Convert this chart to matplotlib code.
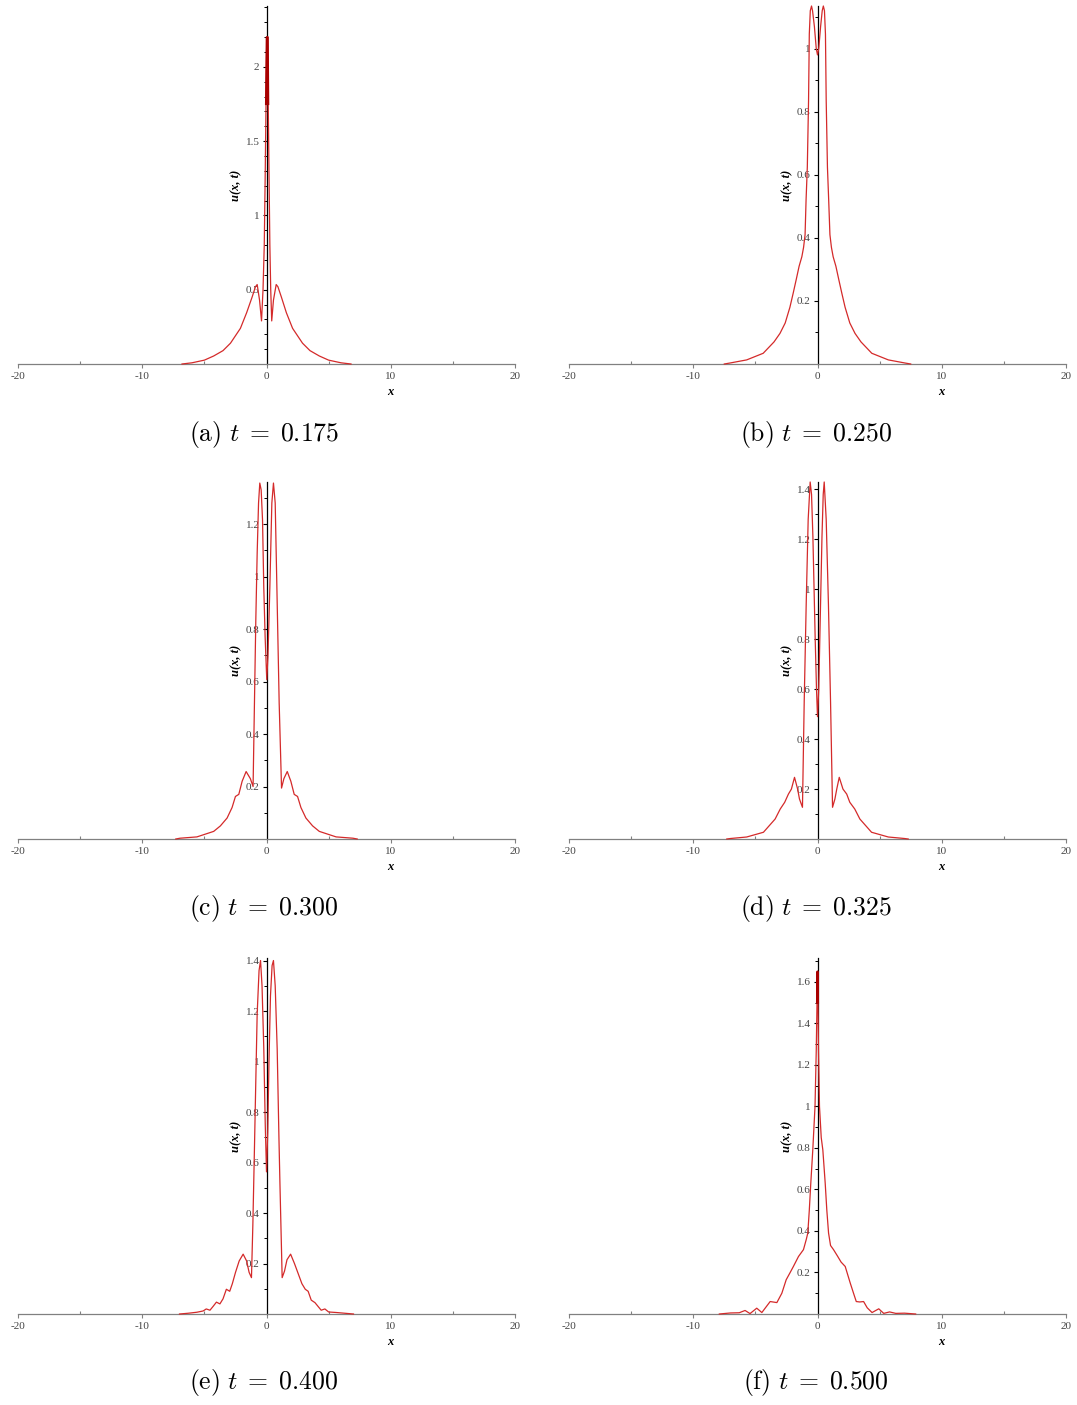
import numpy as np
import matplotlib
matplotlib.use('Agg')
import matplotlib.pyplot as plt
from matplotlib.ticker import FixedLocator, FixedFormatter

plt.rcParams['mathtext.fontset'] = 'cm'
plt.rcParams['axes.unicode_minus'] = False

# u(x,t) profiles
x_a = [-6.8, -6.0, -5.0, -4.25, -3.5, -2.9, -2.1, -1.6, -1.16, -0.89, -0.75, -0.56, -0.4, -0.28, -0.18, -0.1, -0.04,
       0.02, 0.1, 0.14, 0.2, 0.27, 0.34, 0.42, 0.56, 0.78, 0.92, 1.2, 1.6, 2.1, 2.9, 3.5, 4.25, 5.0, 6.0, 6.8]
u_a = [0.0, 0.008, 0.026, 0.054, 0.09, 0.14, 0.24, 0.345, 0.45, 0.52, 0.535, 0.43, 0.29, 0.5, 0.8, 1.3, 1.75,
       2.2, 2.2, 1.75, 1.3, 0.8, 0.5, 0.29, 0.43, 0.535, 0.52, 0.45, 0.345, 0.24, 0.14, 0.09, 0.054, 0.026, 0.008, 0.0]

x_b = [-7.5, -7.06, -5.7, -4.37, -3.5, -3.02, -2.6, -2.22, -1.96, -1.7, -1.48, -1.26, -1.12, -1.0, -0.92, -0.82,
       -0.72, -0.66, -0.58, -0.48, -0.4, -0.25, -0.1, 0.0, 0.1, 0.25, 0.38, 0.47, 0.56, 0.64, 0.7, 0.8, 0.9, 1.0,
       1.12, 1.26, 1.48, 1.7, 1.96, 2.22, 2.6, 3.02, 3.5, 4.37, 5.7, 7.06, 7.5]
u_b = [0.0, 0.003, 0.013, 0.034, 0.07, 0.097, 0.13, 0.18, 0.224, 0.27, 0.31, 0.34, 0.37, 0.41, 0.52, 0.624,
       0.835, 1.046, 1.12, 1.135, 1.12, 1.07, 1.0, 0.98, 1.0, 1.07, 1.12, 1.135, 1.12, 1.046, 0.835, 0.624, 0.52, 0.41,
       0.37, 0.34, 0.31, 0.27, 0.224, 0.18, 0.13, 0.097, 0.07, 0.034, 0.013, 0.003, 0.0]

x_c = [-7.3, -6.96, -5.6, -4.25, -3.71, -3.17, -2.77, -2.5, -2.23, -1.96, -1.64, -1.3, -1.08, -0.97, -0.86,
       -0.75, -0.64, -0.54, -0.43, -0.32, -0.22, -0.11, 0.02, 0.12, 0.27, 0.43, 0.56, 0.7, 0.86, 1.02, 1.21,
       1.4, 1.67, 1.96, 2.23, 2.5, 2.77, 3.17, 3.71, 4.25, 5.6, 6.96, 7.3]
u_c = [0.0, 0.003, 0.008, 0.029, 0.05, 0.08, 0.12, 0.162, 0.17, 0.22, 0.257, 0.23, 0.2, 0.518, 0.835,
       1.09, 1.28, 1.356, 1.33, 1.216, 0.96, 0.77, 0.607, 0.7, 0.96, 1.28, 1.356, 1.28, 0.9, 0.518, 0.194,
       0.23, 0.257, 0.22, 0.17, 0.162, 0.12, 0.08, 0.05, 0.029, 0.008, 0.003, 0.0]

x_d = [-7.3, -7.0, -5.7, -4.35, -3.41, -3.0, -2.64, -2.34, -2.1, -1.85, -1.6, -1.45, -1.21, -1.07, -0.91,
       -0.75, -0.59, -0.48, -0.37, -0.19, -0.08, 0.0, 0.1, 0.19, 0.36, 0.46, 0.54, 0.7, 0.88, 1.05, 1.21,
       1.4, 1.55, 1.75, 2.05, 2.35, 2.6, 3.0, 3.41, 4.35, 5.7, 7.0, 7.3]
u_d = [0.0, 0.002, 0.008, 0.027, 0.08, 0.12, 0.147, 0.18, 0.2, 0.247, 0.2, 0.16, 0.127, 0.55, 0.94,
       1.28, 1.43, 1.38, 1.21, 0.81, 0.6, 0.49, 0.6, 0.81, 1.21, 1.38, 1.43, 1.28, 0.94, 0.55, 0.127,
       0.16, 0.2, 0.247, 0.2, 0.18, 0.147, 0.12, 0.08, 0.027, 0.008, 0.002, 0.0]

x_e = [-7.0, -6.3, -5.6, -5.1, -4.85, -4.55, -4.3, -4.03, -3.75, -3.5, -3.23, -2.96, -2.75, -2.5, -2.2,
       -1.88, -1.6, -1.4, -1.21, -1.1, -0.97, -0.85, -0.75, -0.6, -0.48, -0.36, -0.22, -0.1, 0.0, 0.1,
       0.2, 0.32, 0.45, 0.56, 0.7, 0.86, 1.0, 1.08, 1.26, 1.45, 1.65, 1.94, 2.25, 2.55, 2.85, 3.12, 3.35,
       3.6, 3.9, 4.15, 4.4, 4.7, 5.0, 5.6, 6.3, 7.0]
u_e = [0.0, 0.003, 0.007, 0.012, 0.02, 0.015, 0.03, 0.047, 0.04, 0.06, 0.098, 0.09, 0.12, 0.164, 0.21,
       0.237, 0.21, 0.165, 0.144, 0.35, 0.656, 0.95, 1.19, 1.36, 1.4, 1.3, 1.055, 0.75, 0.563, 0.72,
       1.0, 1.26, 1.38, 1.4, 1.3, 1.05, 0.7, 0.52, 0.144, 0.17, 0.215, 0.237, 0.2, 0.16, 0.12, 0.098, 0.09,
       0.055, 0.045, 0.03, 0.015, 0.02, 0.008, 0.006, 0.003, 0.0]

x_f = [-7.9, -7.0, -6.3, -5.83, -5.43, -4.89, -4.48, -3.81, -3.27, -2.87, -2.52, -2.2, -1.94, -1.53, -1.13,
       -0.9, -0.78, -0.66, -0.54, -0.38, -0.2, -0.1, -0.04, 0.0, 0.04, 0.08, 0.16, 0.3, 0.43, 0.62,
       0.75, 0.89, 1.05, 1.29, 1.6, 1.9, 2.23, 2.63, 2.9, 3.12, 3.4, 3.71, 4.0, 4.39, 4.93, 5.33, 5.8,
       6.3, 7.0, 7.9]
u_f = [0.0, 0.005, 0.006, 0.017, 0.002, 0.028, 0.007, 0.06, 0.055, 0.1, 0.165, 0.2, 0.229, 0.277, 0.31,
       0.36, 0.39, 0.5, 0.63, 0.79, 1.0, 1.27, 1.5, 1.65, 1.5, 1.27, 1.0, 0.85, 0.79, 0.63,
       0.5, 0.39, 0.33, 0.31, 0.28, 0.25, 0.229, 0.15, 0.1, 0.06, 0.058, 0.06, 0.03, 0.007, 0.025, 0.003, 0.01,
       0.003, 0.004, 0.0]

tags = ['a', 'b', 'c', 'd', 'e', 'f']
t_vals = ['0.175', '0.250', '0.300', '0.325', '0.400', '0.500']
xs = [x_a, x_b, x_c, x_d, x_e, x_f]
us = [u_a, u_b, u_c, u_d, u_e, u_f]

x_ticks = [-20, -10, 0, 10, 20]
x_ticklabels = ['-20', '-10', '0', '10', '20']
x_minor = [-15, -5, 5, 15]

y_ticks = [[0.5, 1, 1.5, 2],
           [0.2, 0.4, 0.6, 0.8, 1],
           [0.2, 0.4, 0.6, 0.8, 1, 1.2],
           [0.2, 0.4, 0.6, 0.8, 1, 1.2, 1.4],
           [0.2, 0.4, 0.6, 0.8, 1, 1.2, 1.4],
           [0.2, 0.4, 0.6, 0.8, 1, 1.2, 1.4, 1.6]]
y_ticklabels = [['0.5', '1', '1.5', '2'],
                ['0.2', '0.4', '0.6', '0.8', '1'],
                ['0.2', '0.4', '0.6', '0.8', '1', '1.2'],
                ['0.2', '0.4', '0.6', '0.8', '1', '1.2', '1.4'],
                ['0.2', '0.4', '0.6', '0.8', '1', '1.2', '1.4'],
                ['0.2', '0.4', '0.6', '0.8', '1', '1.2', '1.4', '1.6']]
y_top = [2.41, 1.135, 1.36, 1.43, 1.41, 1.715]
dark_above = [1.7, None, None, None, None, 1.45]

W, H = 1077, 1405
fig = plt.figure(figsize=(W / 100, H / 100), dpi=100)

col_left = [18, 569]
ax_w = 497
rows = [(6, 364), (482, 839), (958, 1314)]
cap_y = [434, 908, 1383]
cap_x = [264, 816]

serif = 'Liberation Serif'
red = '#d42a2a'

for k in range(6):
    r, c = k // 2, k % 2
    top, bot = rows[r]
    ax = fig.add_axes([col_left[c] / W, 1 - bot / H, ax_w / W, (bot - top) / H])
    ax.set_xlim(-20, 20)
    ax.set_ylim(0, y_top[k])

    for s in ['top', 'right']:
        ax.spines[s].set_visible(False)
    ax.spines['left'].set_position(('data', 0))
    ax.spines['bottom'].set_position(('data', 0))
    ax.spines['left'].set_color('black')
    ax.spines['left'].set_linewidth(0.9)
    ax.spines['bottom'].set_color('#808080')
    ax.spines['bottom'].set_linewidth(0.9)

    xd = np.array(xs[k])
    ud = np.array(us[k])
    ax.plot(xd, ud, color=red, lw=0.9, zorder=3, clip_on=False)
    if dark_above[k] is not None:
        m = ud >= dark_above[k]
        ax.plot(xd[m], ud[m], color='#a80000', lw=1.5, zorder=4, clip_on=False)

    ax.xaxis.set_major_locator(FixedLocator(x_ticks))
    ax.xaxis.set_major_formatter(FixedFormatter(x_ticklabels))
    ax.xaxis.set_minor_locator(FixedLocator(x_minor))
    ax.yaxis.set_major_locator(FixedLocator(y_ticks[k]))
    ax.yaxis.set_major_formatter(FixedFormatter(y_ticklabels[k]))
    ax.yaxis.set_minor_locator(FixedLocator(list(np.arange(1, int(y_top[k] * 10) + 1) / 10)))

    ax.tick_params(axis='x', which='major', direction='out', length=3, width=0.8, color='#808080',
                   pad=3, labelsize=8, labelcolor='#444444')
    ax.tick_params(axis='x', which='minor', direction='in', length=2, width=0.8, color='#808080')
    ax.tick_params(axis='y', which='major', direction='out', length=3, width=0.8, color='black',
                   pad=2, labelsize=8, labelcolor='#444444')
    ax.tick_params(axis='y', which='minor', direction='out', length=2, width=0.7, color='black')
    for lab in ax.get_xticklabels() + ax.get_yticklabels():
        lab.set_family(serif)

    ax.set_ylabel('u(x, t)', family=serif, fontsize=9, fontweight='bold', fontstyle='italic')
    ax.yaxis.set_label_coords(0.5 - 24 / ax_w, 0.5)
    ax.annotate('x', xy=(10, 0), xycoords='data', xytext=(0, -28), textcoords='offset pixels',
                ha='center', va='center', family=serif, fontsize=9, fontweight='bold', fontstyle='italic')

    fig.text(cap_x[c] / W, 1 - cap_y[r] / H, r'$\mathrm{(%s)}\ t\;=\;%s$' % (tags[k], t_vals[k]),
             ha='center', va='center', fontsize=18.5)

fig.savefig('out.png', dpi=100)
